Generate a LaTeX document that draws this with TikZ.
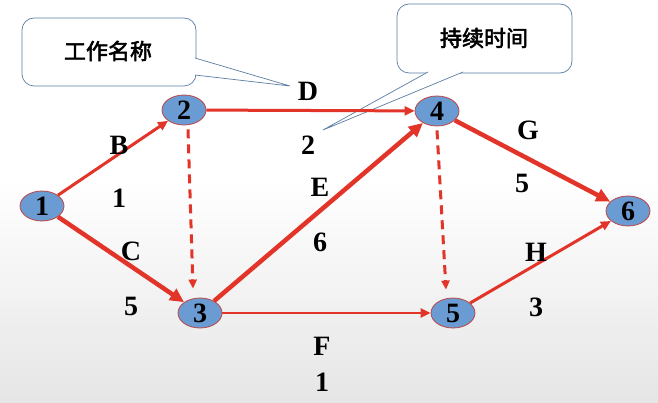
\documentclass[tikz,border=0pt]{standalone}
\usepackage{fontspec}
\setmainfont{Liberation Serif}
\newfontfamily\cjk{Noto Sans CJK SC}[AutoFakeBold=2.5]
\usepackage{tikz}
\usetikzlibrary{arrows.meta, positioning, shapes.geometric, calc}
\definecolor{arcred}{RGB}{226, 52, 40}
\definecolor{evblue}{RGB}{106, 155, 210}
\definecolor{evrim}{RGB}{190, 70, 70}
\definecolor{tipblue}{RGB}{90, 125, 165}

\begin{document}
\begin{tikzpicture}[
    x=1pt, y=-1pt,
    event/.style={ellipse, draw=evrim, fill=evblue, line width=0.8pt,
                  minimum width=44pt, minimum height=30pt, inner sep=0pt,
                  font=\fontsize{28}{28}\selectfont\bfseries},
    lbl/.style={font=\fontsize{28}{28}\selectfont\bfseries, inner sep=0pt},
    arc/.style={arcred, line width=3pt, -{Triangle[length=10pt, width=9pt]}},
    crit/.style={arcred, line width=4.5pt, -{Triangle[length=14pt, width=13pt]}},
    dummy/.style={arcred, line width=3pt, dash pattern=on 9pt off 6pt,
                  -{Triangle[length=9pt, width=8pt]}},
    callout/.style={draw=tipblue, fill=white, line width=0.7pt},
    tiptext/.style={font=\cjk\fontsize{22}{22}\selectfont\bfseries},
  ]
    % background
    \fill[white] (0,0) rectangle (658,403);
    \shade[top color=white, bottom color=black!10, draw=none]
      (0,180) rectangle (658,403);
    \useasboundingbox (0,0) rectangle (658,403);

    % Callouts
    \draw[callout, rounded corners=12pt] (22,18) rectangle (196,86);
    \draw[callout] (195,58) -- (290,86) -- (195,75);
    \node[tiptext] (name) at (108,51) {工作名称};
    \draw[callout, rounded corners=12pt] (397,4) rectangle (572,73);
    \draw[callout] (428,72) -- (323,130) -- (463,72);
    \node[tiptext] (dur) at (484,38) {持续时间};

    % Events
    \node[event] (n1) at (42,206) {1};
    \node[event] (n2) at (184,110) {2};
    \node[event] (n3) at (200,313) {3};
    \node[event] (n4) at (437,111) {4};
    \node[event] (n5) at (453,313) {5};
    \node[event] (n6) at (628,211) {6};

    % Activities
    \draw[arc] (n1) -- (n2);
    \draw[crit] (n1) -- (n3);
    \draw[arc] (n2) -- (n4);
    \draw[crit] (n3) -- (n4);
    \draw[arc, line width=2.5pt] (n3) -- (n5);
    \draw[crit] (n4) -- (n6);
    \draw[arc] (n5) -- (n6);

    % Dummy activities
    \draw[dummy] ($(n2.south)+(4,4)$) -- ($(n3.north)+(-7,-9)$);
    \draw[dummy] ($(n4.south)+(0,4)$) -- ($(n5.north)+(-7,-8)$);

    % Labels
    \node[lbl] (lb) at (119,145) {B};
    \node[lbl] (tb) at (119,198) {1};
    \node[lbl] (lc) at (131,251) {C};
    \node[lbl] (tc) at (131,306) {5};
    \node[lbl] (ld) at (308,91) {D};
    \node[lbl] (td) at (308,145) {2};
    \node[lbl] (le) at (320,187) {E};
    \node[lbl] (te) at (320,242) {6};
    \node[lbl] (lf) at (322,346) {F};
    \node[lbl] (tf) at (322,382) {1};
    \node[lbl] (lg) at (528,130) {G};
    \node[lbl] (tg) at (522,183) {5};
    \node[lbl] (lh) at (536,252) {H};
    \node[lbl] (th) at (536,307) {3};
  \end{tikzpicture}
\end{document}
